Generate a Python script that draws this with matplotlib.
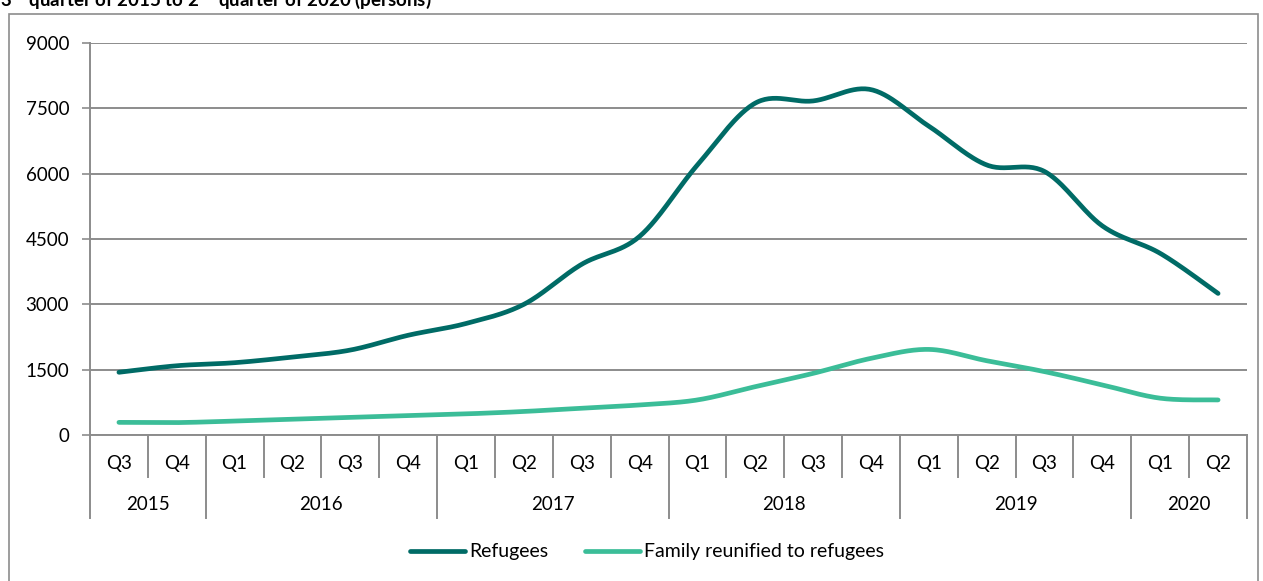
import numpy as np
import matplotlib
matplotlib.use("Agg")
import matplotlib.pyplot as plt
from matplotlib import transforms
from matplotlib.patches import Rectangle

plt.rcParams['font.family'] = ['Lato', 'DejaVu Sans']
plt.rcParams['mathtext.fontset'] = 'custom'
plt.rcParams['mathtext.rm'] = 'Lato'
plt.rcParams['mathtext.bf'] = 'Lato:bold'

# Quarterly data, Q3 2015 - Q2 2020
quarters = ["Q3", "Q4",
            "Q1", "Q2", "Q3", "Q4",
            "Q1", "Q2", "Q3", "Q4",
            "Q1", "Q2", "Q3", "Q4",
            "Q1", "Q2", "Q3", "Q4",
            "Q1", "Q2"]
years = ["2015", "2016", "2017", "2018", "2019", "2020"]
quarters_per_year = [2, 4, 4, 4, 4, 2]

refugees = [1440, 1590, 1660, 1790, 1950, 2290, 2560, 3000, 3920, 4560,
            6200, 7620, 7670, 7930, 7090, 6200, 6050, 4800, 4170, 3250]
family_reunified = [290, 285, 320, 360, 405, 445, 485, 540, 615, 690,
                    805, 1110, 1415, 1760, 1965, 1705, 1455, 1150, 845, 805]

series_names = ["Refugees", "Family reunified to refugees"]
series_colors = ["#006B66", "#3BBD98"]
yticks = [0, 1500, 3000, 4500, 6000, 7500, 9000]

GRID = "#8C8C8C"
W, H = 1263, 581
FS = 13.5


def smooth(y, n=30):
    """Catmull-Rom style smoothing (as used by spreadsheet 'smoothed lines')."""
    y = np.asarray(y, float)
    x = np.arange(len(y), dtype=float)
    xs, ys = [], []
    for i in range(len(y) - 1):
        p0 = np.array([x[max(i - 1, 0)], y[max(i - 1, 0)]])
        p1 = np.array([x[i], y[i]])
        p2 = np.array([x[i + 1], y[i + 1]])
        p3 = np.array([x[min(i + 2, len(y) - 1)], y[min(i + 2, len(y) - 1)]])
        c1 = p1 + (p2 - p0) / 6.0
        c2 = p2 - (p3 - p1) / 6.0
        t = np.linspace(0, 1, n, endpoint=(i == len(y) - 2))[:, None]
        pts = ((1 - t) ** 3) * p1 + 3 * ((1 - t) ** 2) * t * c1 + 3 * (1 - t) * t ** 2 * c2 + t ** 3 * p2
        xs.append(pts[:, 0])
        ys.append(pts[:, 1])
    return np.concatenate(xs), np.concatenate(ys)


fig = plt.figure(figsize=(W / 100, H / 100), dpi=100)
ax = fig.add_axes([90 / W, 1 - 435 / H, (1247 - 90) / W, (435 - 43) / H])

lines = []
for vals, name, col in zip([refugees, family_reunified], series_names, series_colors):
    sx, sy = smooth(vals)
    ln, = ax.plot(sx, sy, color=col, lw=3.4, solid_capstyle='round', label=name, zorder=3)
    lines.append(ln)

n = len(quarters)
ax.set_xlim(-0.5, n - 0.5)
ax.set_ylim(0, 9000)
ax.set_yticks(yticks)
ax.set_yticklabels([str(v) for v in yticks], fontsize=FS)
ax.yaxis.grid(True, color=GRID, lw=1.4)
ax.set_axisbelow(True)
ax.tick_params(axis='y', length=5.5, width=1.2, color=GRID, pad=9.5)
ax.tick_params(axis='x', length=0, labelbottom=False)
for s in ['top', 'right']:
    ax.spines[s].set_visible(False)
for s in ['left', 'bottom']:
    ax.spines[s].set_color(GRID)
    ax.spines[s].set_linewidth(1.4)

# Two-level category axis (quarters / years)
tr = transforms.blended_transform_factory(ax.transData, fig.transFigure)
y_axis = 1 - 435 / H
y_q = 1 - 477 / H
y_y = 1 - 518 / H
for i, q in enumerate(quarters):
    ax.text(i, 1 - 463 / H, q, transform=tr, ha='center', va='center', fontsize=FS)
bounds = np.concatenate([[0], np.cumsum(quarters_per_year)]) - 0.5
for i in range(n + 1):
    b = i - 0.5
    bottom = y_y if np.any(np.isclose(bounds, b)) else y_q
    ax.plot([b, b], [y_axis, bottom], transform=tr, color=GRID, lw=1.4, clip_on=False)
for yr, a, b in zip(years, bounds[:-1], bounds[1:]):
    ax.text((a + b) / 2, 1 - 505 / H, yr, transform=tr, ha='center', va='center', fontsize=FS)

# Legend
fig.legend(handles=lines, loc='center', bbox_to_anchor=(647 / W, 1 - 552 / H), ncol=2,
           frameon=False, fontsize=14, handlelength=2.85, handletextpad=0.2,
           columnspacing=1.9)

# Chart border and title
fig.patches.append(Rectangle((8.5 / W, -0.05), (1258 - 8.5) / W, 1.05 - 13.5 / H,
                             transform=fig.transFigure, fill=False, edgecolor=GRID, lw=1.2))
fig.text(0 / W, 1 - 6 / H,
         r"$\mathbf{3^{rd}}$ quarter of 2015 to $\mathbf{2^{nd}}$ quarter of 2020 (persons)",
         ha='left', va='baseline', fontsize=13.5, fontweight='bold')

fig.savefig("out.png", dpi=100)
